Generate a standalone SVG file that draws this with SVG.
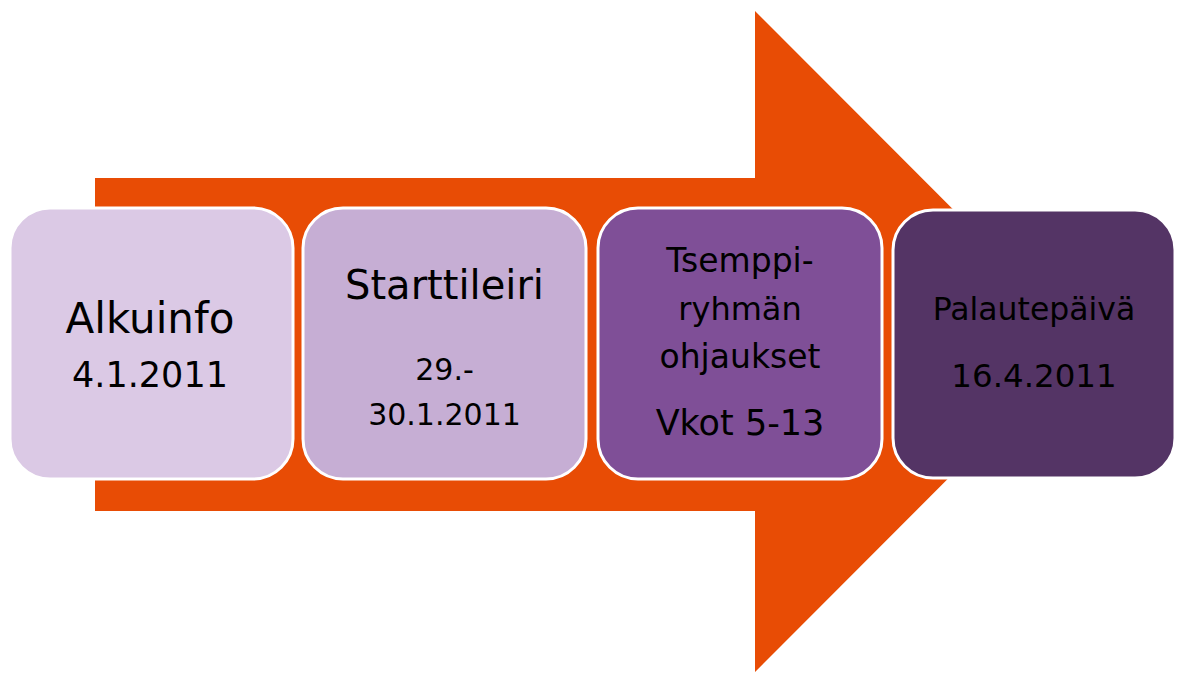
<svg xmlns="http://www.w3.org/2000/svg" width="1180" height="675" viewBox="0 0 1180 675">
  <style>
    .box { stroke: #ffffff; stroke-width: 3; }
    .label { font-family: "DejaVu Sans", "Verdana", sans-serif; fill: #000000; text-anchor: middle; }
  </style>
  <rect width="1180" height="675" fill="#ffffff"/>

  <!-- background process arrow -->
  <g id="connectors">
    <path d="M95,178 H755 V11 L1085,341.5 L755,672 V511 H95 Z" fill="#e84c05"/>
  </g>

  <g id="step-alkuinfo">
    <rect class="box" x="10" y="208" width="283" height="271" rx="40" fill="#dbc9e5"/>
    <text class="label" x="150" y="333" font-size="42">Alkuinfo</text>
    <text class="label" x="150" y="387" font-size="35">4.1.2011</text>
  </g>

  <g id="step-starttileiri">
    <rect class="box" x="303" y="208" width="283" height="271" rx="40" fill="#c6aed4"/>
    <text class="label" x="444.5" y="299" font-size="40">Starttileiri</text>
    <text class="label" x="444.5" y="380" font-size="30">29.-</text>
    <text class="label" x="444.5" y="425" font-size="30">30.1.2011</text>
  </g>

  <g id="step-tsemppi">
    <rect class="box" x="598" y="208" width="284" height="271" rx="40" fill="#7f4f97"/>
    <text class="label" x="740" y="272" font-size="33">Tsemppi-</text>
    <text class="label" x="740" y="320" font-size="32">ryhmän</text>
    <text class="label" x="740" y="368" font-size="33">ohjaukset</text>
    <text class="label" x="740" y="435" font-size="35">Vkot 5-13</text>
  </g>

  <g id="step-palautepaiva">
    <rect class="box" x="893" y="210" width="282" height="268" rx="40" fill="#543465"/>
    <text class="label" x="1034" y="320" font-size="31.5">Palautepäivä</text>
    <text class="label" x="1034" y="387" font-size="32.5">16.4.2011</text>
  </g>
</svg>
